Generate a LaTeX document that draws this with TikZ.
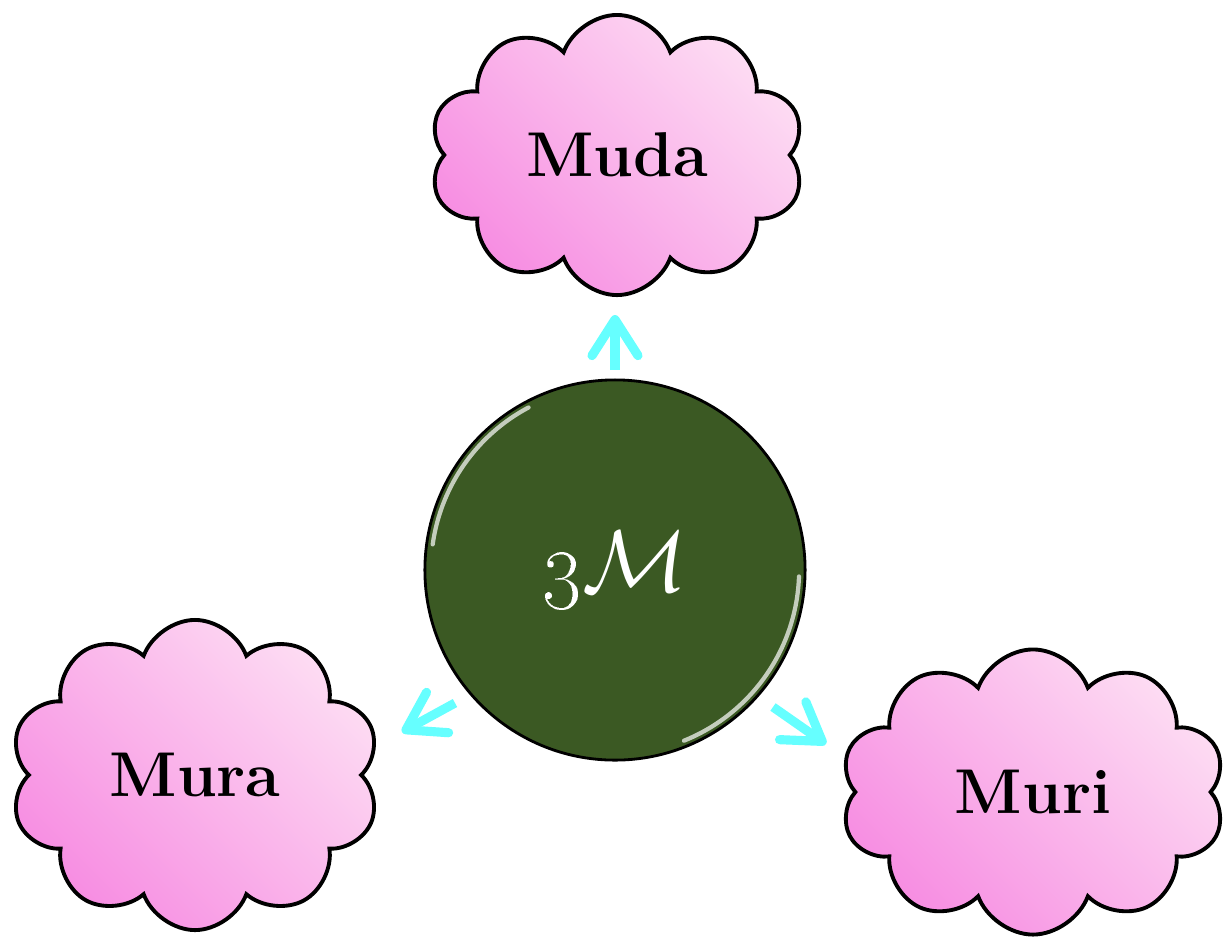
\documentclass[tikz,border=0pt]{standalone}
\usepackage{tikz}
\usetikzlibrary{shapes, shapes.symbols, arrows.meta, calc}

\definecolor{pinkdeep}{HTML}{F78DE2}
\definecolor{pinklight}{HTML}{FDDCF3}
\definecolor{hubgreen}{HTML}{3B5923}
\definecolor{arrowcyan}{HTML}{66FFFF}

\begin{document}
\begin{tikzpicture}[x=0.01cm, y=-0.01cm]
\tikzstyle{puff} = [cloud, cloud puffs=10, cloud puff arc=140, cloud ignores aspect, draw=black, line width=1.1pt, left color=pinkdeep, right color=pinklight, shading angle=135, inner sep=0pt, font=\fontsize{18}{22}\selectfont\bfseries]
\tikzstyle{push} = [arrowcyan, line width=2.6pt, -{Straight Barb[round, length=0.36cm, width=0.46cm]}]
\tikzstyle{gloss} = [white, opacity=0.7, line width=1.2pt, line cap=round]

\useasboundingbox (0,0) rectangle (1229,938);

\node[puff, minimum width=3.75cm, minimum height=2.8cm] (muda) at (617,155) {Muda};
\node[puff, minimum width=3.7cm, minimum height=3.1cm] (mura) at (195,775) {Mura};
\node[puff, minimum width=3.85cm, minimum height=2.85cm] (muri) at (1033,792) {Muri};

\node[circle, draw=black, line width=0.8pt, fill=hubgreen, minimum size=3.8cm, text=white, font=\fontsize{24}{28}\selectfont] (hub) at (615,570) {\oldstylenums{3}$\mathcal{M}$};
\draw[gloss] (hub.center) ++(118:1.84cm) arc[start angle=118, end angle=172, radius=1.84cm];
\draw[gloss] (hub.center) ++(292:1.84cm) arc[start angle=292, end angle=358, radius=1.84cm];

\coordinate (upfoot) at (615,370);
\coordinate (uptip) at (615,315);
\coordinate (leftfoot) at (455,703);
\coordinate (lefttip) at (402,732);
\coordinate (rightfoot) at (773,707);
\coordinate (righttip) at (826,744);

\draw[push] (upfoot) -- (uptip);
\draw[push] (leftfoot) -- (lefttip);
\draw[push] (rightfoot) -- (righttip);

\end{tikzpicture}
\end{document}
